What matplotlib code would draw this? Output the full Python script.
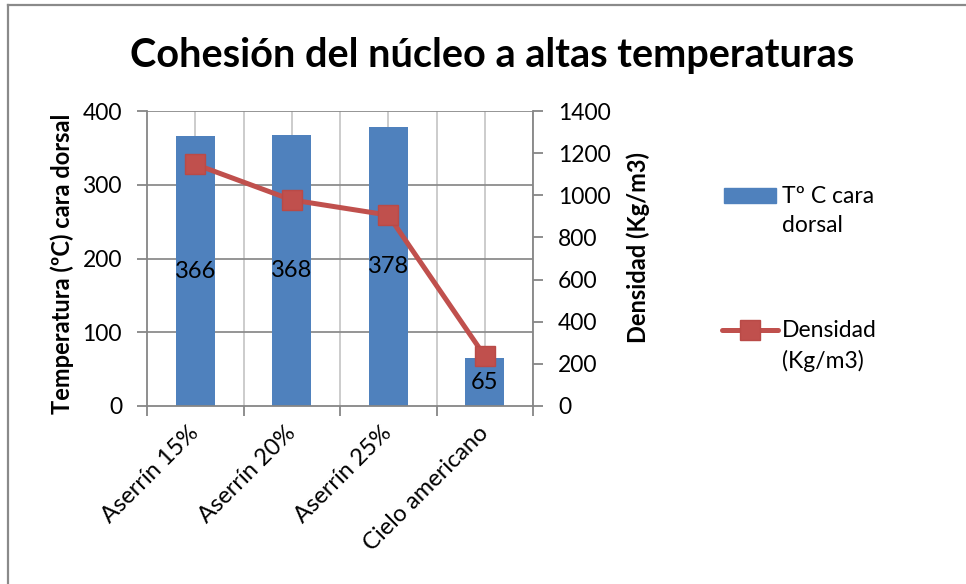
import matplotlib
matplotlib.use("Agg")
import matplotlib.pyplot as plt
from matplotlib.lines import Line2D
from matplotlib.patches import Rectangle

plt.rcParams['font.family'] = ['Lato', 'DejaVu Sans']

categories = ["Aserrín 15%", "Aserrín 20%", "Aserrín 25%", "Cielo americano"]
temperatura = [366, 368, 378, 65]
densidad = [1147, 978, 906, 237]

title = "Cohesión del núcleo a altas temperaturas"
left_label = "Temperatura (ºC) cara dorsal"
right_label = "Densidad (Kg/m3)"
legend_labels = ["Tº C cara\ndorsal", "Densidad\n(Kg/m3)"]

BLUE = "#4F81BD"
RED = "#C0504D"
AXIS_GREY = "#868686"
GRID_DARK = "#8C8C8C"
GRID_LIGHT = "#C8C8C8"

W, H = 966, 584
fig = plt.figure(figsize=(W / 100, H / 100), dpi=100)

# outer chart frame (top and left edges visible)
fig.add_artist(Line2D([8 / W, 8 / W], [0, 1 - 5 / H], color="#8A8A8A", lw=1.6))
fig.add_artist(Line2D([8 / W, 1], [1 - 5 / H, 1 - 5 / H], color="#8A8A8A", lw=1.6))

x0, x1, y0, y1 = 147, 533, 111, 406
ax = fig.add_axes([x0 / W, 1 - y1 / H, (x1 - x0) / W, (y1 - y0) / H])
ax2 = ax.twinx()
ax.set_zorder(1)
ax2.set_zorder(2)
ax.patch.set_visible(False)

xs = list(range(len(categories)))
ax.set_xlim(-0.5, len(categories) - 0.5)
ax.set_ylim(0, 400)
ax2.set_ylim(0, 1400)
ax.set_yticks([0, 100, 200, 300, 400])
ax2.set_yticks(range(0, 1401, 200))

# gridlines
for yv in [100, 200, 300, 400]:
    ax.axhline(yv, color=GRID_DARK, lw=1.3, zorder=0.5)
for xv in [i - 0.5 for i in range(1, len(categories))] + xs + [len(categories) - 0.5]:
    ax.axvline(xv, color=GRID_LIGHT, lw=1.3, zorder=0.4)

bars = ax.bar(xs, temperatura, width=0.4, color=BLUE, zorder=2)
for b, v in zip(bars, temperatura):
    ax.text(b.get_x() + b.get_width() / 2, v / 2, str(v), ha="center", va="center",
            fontsize=17, color="black", zorder=3)

ax2.plot(xs, densidad, color=RED, lw=3.6, marker="s", markersize=14,
         markerfacecolor=RED, markeredgecolor="#B94A47", zorder=3)

for a in (ax, ax2):
    for s in a.spines.values():
        s.set_visible(False)
ax.spines["left"].set_visible(True)
ax.spines["bottom"].set_visible(True)
ax2.spines["right"].set_visible(True)
for s in (ax.spines["left"], ax.spines["bottom"], ax2.spines["right"]):
    s.set_color(AXIS_GREY)
    s.set_linewidth(1.3)

ax.set_xticks([i - 0.5 for i in range(len(categories) + 1)])
ax.set_xticklabels([])
ax.set_xticks(xs, minor=True)
ax.set_xticklabels(categories, minor=True, rotation=45, ha="right", va="center",
                   rotation_mode="anchor", fontsize=17)
ax.tick_params(axis="x", which="major", length=7, width=1.3, color=AXIS_GREY, direction="out")
ax.tick_params(axis="x", which="minor", length=0, pad=17)
ax.tick_params(axis="y", length=7, width=1.3, color=AXIS_GREY, labelsize=16.5, pad=11)
ax2.tick_params(axis="y", length=7, width=1.3, color=AXIS_GREY, labelsize=16.5, pad=11)

fig.text(62 / W, 1 - 264 / H, left_label, rotation=90, ha="center", va="center",
         fontsize=17, fontweight="bold")
fig.text(638 / W, 1 - 248 / H, right_label, rotation=90, ha="center", va="center",
         fontsize=17, fontweight="bold")

t = fig.text(492 / W, 1 - 55 / H, title, ha="center", va="center", fontsize=28.5,
             fontweight="bold")

# legend
fig.add_artist(Rectangle((724 / W, 1 - 203 / H), 52 / W, 15 / H, color=BLUE))
fig.text(782 / W, 1 - 211 / H, legend_labels[0], ha="left", va="center", fontsize=16.5,
         linespacing=1.45)
fig.add_artist(Line2D([722 / W, 778 / W], [1 - 330 / H, 1 - 330 / H], color=RED, lw=3.6,
                      solid_capstyle="round"))
fig.add_artist(Line2D([750 / W], [1 - 330 / H], color=RED, marker="s", markersize=14,
                      markeredgecolor="#B94A47", lw=0))
fig.text(782 / W, 1 - 346 / H, legend_labels[1], ha="left", va="center", fontsize=16.5,
         linespacing=1.45)

fig.savefig("out.png", dpi=100)
